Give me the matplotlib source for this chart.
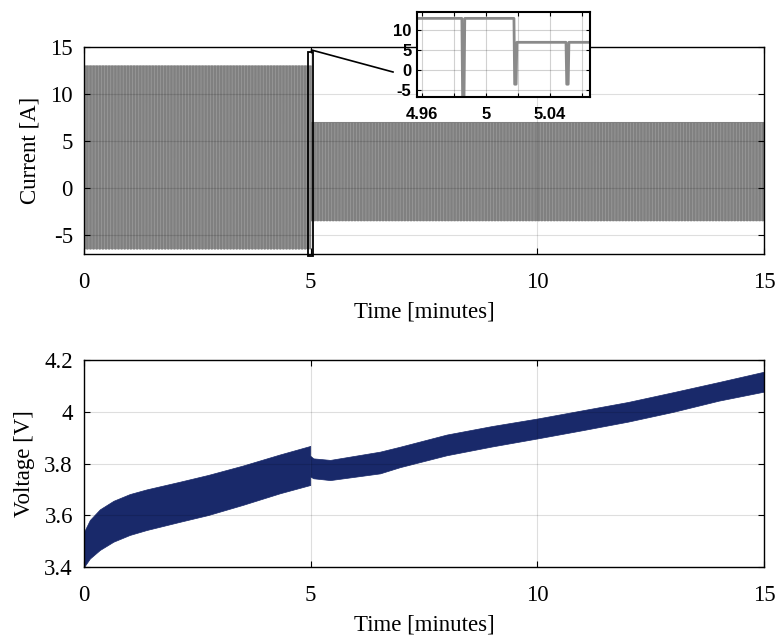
import numpy as np
import matplotlib
matplotlib.use('Agg')
import matplotlib.pyplot as plt
from matplotlib.patches import Rectangle
from matplotlib.lines import Line2D

plt.rcParams['font.family'] = ['Liberation Serif', 'DejaVu Serif']
plt.rcParams['font.size'] = 16.5

# pulse charging profile (time in minutes)
phase_start = [0.0, 5.0]
charge_current = [13.0, 7.0]
discharge_current = [-6.5, -3.5]
pulse_period = 0.0325
pulse_width = 0.0018
first_pulse = 0.0125
t_end = 15.0

# cell voltage envelope, before and after the current step
v_time_a = [0.0, 0.13, 0.35, 0.65, 1.01, 1.38, 2.12, 2.74, 3.5, 4.32, 4.99]
v_upper_a = [3.536, 3.582, 3.623, 3.656, 3.682, 3.700, 3.730, 3.756, 3.792, 3.835, 3.868]
v_lower_a = [3.40, 3.433, 3.466, 3.498, 3.524, 3.543, 3.575, 3.601, 3.64, 3.685, 3.717]
v_time_b = [4.99, 5.06, 5.43, 6.53, 6.97, 8.0, 9.0, 10.0, 11.0, 12.0, 13.0, 14.0, 15.0]
v_upper_b = [3.83, 3.82, 3.814, 3.846, 3.865, 3.912, 3.945, 3.974, 4.006, 4.038, 4.076, 4.115, 4.155]
v_lower_b = [3.75, 3.743, 3.736, 3.762, 3.786, 3.832, 3.866, 3.897, 3.929, 3.962, 4.0, 4.043, 4.078]

# build the pulse train
starts = np.arange(first_pulse, t_end, pulse_period)
phase = np.searchsorted(phase_start, starts, side='right') - 1
hi = np.array(charge_current)[phase]
lo = np.array(discharge_current)[phase]
hi_prev = np.concatenate([[charge_current[0]], hi[:-1]])
w = pulse_width
t_cur = np.column_stack([starts, starts + 0.25 * w, starts + 0.75 * w, starts + w]).ravel()
i_cur = np.column_stack([hi_prev, lo, lo, hi]).ravel()
t_cur = np.concatenate([[0.0], t_cur, [t_end]])
i_cur = np.concatenate([[charge_current[0]], i_cur, [hi[-1]]])

fig = plt.figure(figsize=(7.77, 6.41), dpi=100)
ax1 = fig.add_axes([0.1081, 0.6037, 0.8752, 0.3229])
ax2 = fig.add_axes([0.1081, 0.1154, 0.8752, 0.3229])

for ax in (ax1, ax2):
    ax.tick_params(direction='in', length=4, width=0.8, top=True, right=True)
    ax.tick_params(axis='x', pad=13)
    ax.tick_params(axis='y', pad=8)
    ax.grid(True, color='k', alpha=0.13, lw=0.8)
    ax.set_axisbelow(False)
    for s in ax.spines.values():
        s.set_linewidth(1.0)
    ax.set_xlim(0, 15)
    ax.set_xticks([0, 5, 10, 15])
    ax.set_xlabel('Time [minutes]', labelpad=6)

# current
for k in range(len(phase_start)):
    t0 = phase_start[k]
    t1 = phase_start[k + 1] if k + 1 < len(phase_start) else t_end
    ax1.fill_between([t0, t1], discharge_current[k], charge_current[k],
                     color='#a4a4a4', lw=0)
ax1.plot(t_cur, i_cur, color='#808080', lw=0.5)
ax1.set_ylim(-7, 15)
ax1.set_yticks([-5, 0, 5, 10, 15])
ax1.set_yticklabels(['-5', '0', '5', '10', '15'])
ax1.set_ylabel('Current [A]', labelpad=7)

# zoom box and leader line
ax1.add_patch(Rectangle((4.945, -7.2), 0.11, 21.7, fill=False, ec='k', lw=1.3,
                        clip_on=False, zorder=5))
fig.add_artist(Line2D([311.5 / 777, 393 / 777], [1 - 50 / 641, 1 - 72 / 641],
                      color='k', lw=1.2, transform=fig.transFigure))

# voltage
ax2.fill_between(v_time_a, v_lower_a, v_upper_a, color='#19296a', lw=0.5, ec='#19296a')
ax2.fill_between(v_time_b, v_lower_b, v_upper_b, color='#19296a', lw=0.5, ec='#19296a')
ax2.set_ylim(3.4, 4.2)
ax2.set_yticks([3.4, 3.6, 3.8, 4.0, 4.2])
ax2.set_yticklabels(['3.4', '3.6', '3.8', '4', '4.2'])
ax2.set_ylabel('Voltage [V]', labelpad=7)

# inset
axi = fig.add_axes([0.5367, 0.8487, 0.2227, 0.1326])
axi.plot(t_cur, i_cur, color='#8a8a8a', lw=2.0)
axi.set_xlim(4.957, 5.065)
axi.set_ylim(-6.7, 14.6)
axi.set_xticks([4.96, 4.98, 5.0, 5.02, 5.04, 5.06])
axi.set_xticklabels(['4.96', '', '5', '', '5.04', ''])
axi.set_yticks([-5, 0, 5, 10])
axi.set_yticklabels(['-5', '0', '5', '10'])
axi.tick_params(direction='in', length=3, top=True, right=True)
axi.tick_params(axis='x', pad=7)
axi.tick_params(axis='y', pad=4)
for lab in axi.get_xticklabels() + axi.get_yticklabels():
    lab.set_fontfamily('Liberation Sans')
    lab.set_fontweight('bold')
    lab.set_fontsize(12)
axi.grid(True, color='k', alpha=0.18, lw=0.8)
for s in axi.spines.values():
    s.set_linewidth(1.5)

fig.savefig('out.png', dpi=100)
